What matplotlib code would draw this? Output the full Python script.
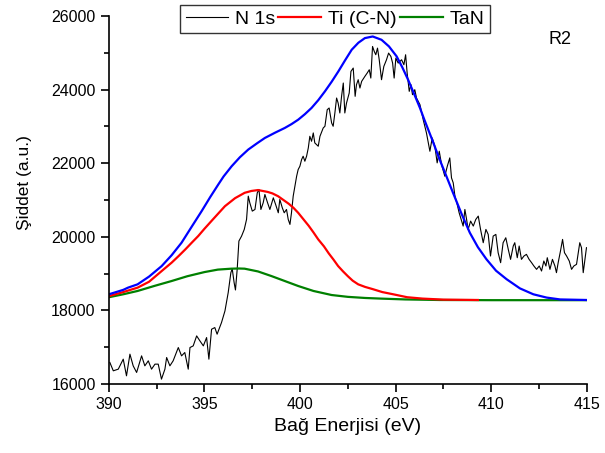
import matplotlib
matplotlib.use('Agg')
import matplotlib.pyplot as plt
from matplotlib.ticker import MultipleLocator

plt.rcParams['font.family'] = ['Liberation Sans', 'DejaVu Sans']

# N 1s spectrum
n1s_x = [390.05, 390.23, 390.49, 390.75, 390.92, 391.10, 391.27, 391.45, 391.71, 391.88,
         392.06, 392.23, 392.41, 392.58, 392.75, 392.93, 393.02, 393.19, 393.36, 393.63,
         393.80, 393.97, 394.15, 394.24, 394.41, 394.59, 394.76, 394.94, 395.11, 395.23,
         395.37, 395.54, 395.66, 395.89, 396.07, 396.24, 396.38, 396.45, 396.55, 396.62,
         396.71, 396.80, 396.94, 397.08, 397.20, 397.29, 397.37, 397.50, 397.64, 397.76,
         397.85, 397.95, 398.07, 398.16, 398.30, 398.42, 398.60, 398.72, 398.86, 398.94,
         399.07, 399.17, 399.29, 399.38, 399.47, 399.55, 399.64, 399.73, 399.82, 399.90,
         399.99, 400.08, 400.16, 400.25, 400.34, 400.43, 400.51, 400.60, 400.69, 400.77,
         400.95, 401.04, 401.21, 401.30, 401.42, 401.52, 401.65, 401.73, 401.82, 401.91,
         401.99, 402.08, 402.17, 402.26, 402.34, 402.43, 402.57, 402.66, 402.78, 402.88,
         402.95, 403.04, 403.13, 403.22, 403.39, 403.51, 403.62, 403.70, 403.79, 403.88,
         403.96, 404.05, 404.14, 404.26, 404.38, 404.52, 404.63, 404.75, 404.84, 404.92,
         405.01, 405.13, 405.31, 405.43, 405.52, 405.60, 405.71, 405.80, 405.88, 406.00,
         406.09, 406.27, 406.44, 406.61, 406.79, 406.91, 407.05, 407.17, 407.28, 407.40,
         407.57, 407.70, 407.83, 407.92, 408.01, 408.10, 408.22, 408.32, 408.45, 408.53,
         408.62, 408.71, 408.79, 408.92, 409.06, 409.19, 409.32, 409.44, 409.58, 409.72,
         409.84, 409.96, 410.10, 410.24, 410.36, 410.49, 410.62, 410.76, 410.89, 411.01,
         411.15, 411.23, 411.36, 411.46, 411.58, 411.71, 411.84, 411.98, 412.11, 412.23,
         412.37, 412.51, 412.63, 412.75, 412.86, 412.93, 413.07, 413.20, 413.33, 413.41,
         413.50, 413.62, 413.73, 413.83, 413.94, 414.08, 414.20, 414.32, 414.46, 414.63,
         414.72, 414.81, 414.90, 414.98]
n1s_y = [16588, 16362, 16407, 16678, 16226, 16814, 16497, 16317, 16768, 16497,
         16633, 16407, 16543, 16543, 16136, 16407, 16723, 16497, 16633, 16994,
         16768, 16859, 16407, 16994, 17039, 17310, 17175, 17039, 17265, 16678,
         17491, 17536, 17356, 17672, 17988, 18485, 19027, 19135, 18756, 18557,
         19117, 19885, 20020, 20201, 20472, 21104, 20924, 20698, 20743, 21194,
         21285, 20743, 20924, 21150, 20924, 20743, 21059, 20879, 20653, 21014,
         20788, 20653, 20743, 20472, 20337, 20653, 21105, 21375, 21647, 21827,
         21917, 22098, 22189, 22053, 22189, 22414, 22730, 22595, 22821, 22550,
         22460, 22730, 22956, 23002, 23453, 23498, 23092, 23002, 23363, 23769,
         23634, 23363, 23815, 24176, 23363, 23634, 23905, 24492, 24582, 23815,
         24131, 24266, 24040, 24221, 24357, 24447, 24537, 24311, 25169, 25034,
         24944, 25124, 24808, 24266, 24627, 24808, 24989, 24898, 24718, 24311,
         24853, 24718, 24808, 24673, 24944, 24447, 23950, 24131, 23860, 23995,
         23769, 23589, 23182, 22821, 22324, 22685, 22459, 22008, 22324, 21963,
         21646, 21917, 22143, 21601, 21466, 21104, 20879, 20653, 20427, 20292,
         20743, 20472, 20201, 20427, 20292, 20472, 20563, 20201, 19840, 20201,
         20066, 19479, 20020, 20066, 19569, 19298, 19840, 19975, 19659, 19388,
         19750, 19840, 19433, 19750, 19388, 19479, 19524, 19388, 19298, 19208,
         19117, 19208, 19072, 19343, 19208, 19433, 19117, 19388, 19208, 19027,
         19298, 19614, 19930, 19569, 19479, 19343, 19117, 19208, 19253, 19840,
         19705, 19027, 19388, 19705]

# Ti (C-N) component
ti_x = [390.0, 390.75, 391.5, 392.1, 392.85, 393.28, 393.65, 394.0, 394.35, 394.67,
        395.0, 395.4, 395.75, 396.07, 396.6, 397.1, 397.45, 397.8, 398.3, 398.55,
        398.85, 399.4, 399.65, 399.9, 400.45, 400.7, 400.95, 401.25, 401.5, 401.75,
        401.99, 402.25, 402.5, 402.75, 403.04, 403.4, 403.8, 404.3, 404.87, 405.6,
        406.4, 407.5, 409.3]
ti_y = [18390, 18500, 18620, 18780, 19110, 19298, 19480, 19660, 19850, 20020,
        20220, 20450, 20650, 20832, 21050, 21195, 21245, 21270, 21220, 21180,
        21103, 20900, 20790, 20653, 20300, 20120, 19930, 19740, 19550, 19380,
        19206, 19060, 18930, 18810, 18710, 18640, 18580, 18500, 18440, 18360,
        18323, 18295, 18285]

# TaN component
tan_x = [390.0, 390.75, 391.5, 392.4, 393.28, 394.1, 395.0, 395.7, 396.4, 396.8,
         397.1, 397.8, 398.5, 399.2, 399.9, 400.7, 401.65, 402.5, 403.4, 404.26,
         405.5, 407.3, 410.0, 415.0]
tan_y = [18360, 18440, 18530, 18670, 18800, 18930, 19043, 19110, 19135, 19140,
         19135, 19060, 18935, 18800, 18665, 18530, 18420, 18370, 18340, 18322,
         18300, 18285, 18280, 18280]

# envelope
env_x = [390.0, 390.75, 391.0, 391.5, 392.1, 392.76, 393.28, 393.8, 394.3, 394.85,
         395.3, 395.72, 396.0, 396.42, 396.85, 397.29, 397.75, 398.16, 398.7, 399.2,
         399.55, 399.9, 400.25, 400.6, 400.95, 401.3, 401.65, 402.0, 402.35, 402.7,
         403.05, 403.39, 403.8, 404.26, 404.65, 405.05, 405.35, 405.65, 405.95, 406.27,
         406.5, 406.9, 407.3, 407.65, 408.0, 408.45, 408.88, 409.3, 409.75, 410.25,
         410.8, 411.5, 412.2, 412.9, 413.6, 415.0]
env_y = [18440, 18560, 18620, 18710, 18920, 19206, 19500, 19840, 20250, 20697,
         21080, 21420, 21640, 21916, 22160, 22370, 22540, 22685, 22830, 22956,
         23060, 23180, 23330, 23500, 23710, 23950, 24210, 24490, 24790, 25080,
         25270, 25396, 25440, 25350, 25170, 24900, 24600, 24265, 23900, 23500,
         23180, 22650, 22100, 21650, 21195, 20620, 20110, 19720, 19390, 19080,
         18850, 18600, 18440, 18350, 18300, 18285]

fig = plt.figure(figsize=(6.05, 4.53), dpi=100)
ax = fig.add_axes([0.180, 0.152, 0.790, 0.813])

ax.plot(n1s_x, n1s_y, color='black', linewidth=0.8, label='N 1s')
ax.plot(tan_x, tan_y, color='#008000', linewidth=1.6, label='TaN', solid_joinstyle='round')
ax.plot(ti_x, ti_y, color='red', linewidth=1.6, label='Ti (C-N)', solid_joinstyle='round')
ax.plot(env_x, env_y, color='blue', linewidth=1.6, solid_joinstyle='round')

ax.set_xlim(390, 415)
ax.set_ylim(16000, 26000)
ax.xaxis.set_major_locator(MultipleLocator(5))
ax.xaxis.set_minor_locator(MultipleLocator(2.5))
ax.yaxis.set_major_locator(MultipleLocator(2000))
ax.yaxis.set_minor_locator(MultipleLocator(1000))

for s in ['top', 'right']:
    ax.spines[s].set_visible(False)
for s in ['left', 'bottom']:
    ax.spines[s].set_linewidth(1.2)
ax.tick_params(which='major', direction='out', length=6, width=1.2, labelsize=11.5)
ax.tick_params(which='minor', direction='out', length=3.5, width=1.2)

ax.set_xlabel('Bağ Enerjisi (eV)', fontsize=14)
ax.set_ylabel('Şiddet (a.u.)', fontsize=12.5)
ax.yaxis.set_label_coords(-0.161, 0.546)

ax.text(413.6, 25350, 'R2', fontsize=13, ha='center', va='center')

h, l = ax.get_legend_handles_labels()
order = [0, 2, 1]
leg = ax.legend([h[i] for i in order], [l[i] for i in order], loc='upper center',
                bbox_to_anchor=(0.473, 1.03), ncol=3, fontsize=14, frameon=True,
                fancybox=False, handlelength=2.2, handletextpad=0.36, columnspacing=0.15,
                borderpad=0.28, borderaxespad=0)
leg.get_frame().set_edgecolor('black')
leg.get_frame().set_linewidth(1.0)

fig.savefig('out.png', dpi=100)
